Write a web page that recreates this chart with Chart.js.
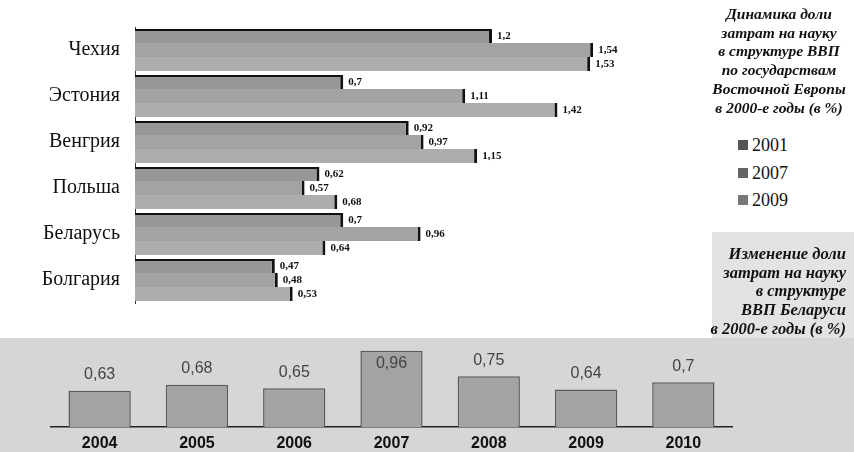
<!DOCTYPE html>
<html>
<head>
<meta charset="utf-8">
<script src="https://cdn.jsdelivr.net/npm/chart.js@4/dist/chart.umd.min.js"></script>
<style>
  html, body { margin:0; padding:0; background:#fff; }
  #wrap { position:relative; width:854px; height:452px; overflow:hidden; background:#fff; }
  #strip { position:absolute; left:0; top:338px; width:854px; height:114px; background:#d6d6d6; }
  #capbox { position:absolute; left:712px; top:232px; width:142px; height:106px; background:#e3e3e3; }
  #topc { position:absolute; left:0; top:0; }
  #botc { position:absolute; left:0; top:338px; }
  .cap { position:absolute; font-family:"Liberation Serif","DejaVu Serif",serif; font-weight:bold; font-style:italic; color:#111; line-height:18.7px; white-space:nowrap; }
  #cap1 { left:699px; top:5px; width:160px; text-align:center; font-size:15.5px; }
  #cap2 { left:680px; top:245px; width:166px; text-align:right; font-size:16.5px; }
  #legend { position:absolute; left:738px; top:133px; font-family:"Liberation Serif","DejaVu Serif",serif; font-size:18px; color:#111; }
  #legend div { height:27.5px; line-height:24px; white-space:nowrap; }
  #legend span.box { display:inline-block; width:10px; height:10px; margin-right:4px; vertical-align:1px; }
</style>
</head>
<body>
<div id="wrap">
  <div id="strip"></div>
  <div id="capbox"></div>
  <canvas id="topc" width="730" height="330"></canvas>
  <canvas id="botc" width="854" height="114"></canvas>
  <div class="cap" id="cap1">Динамика доли<br>затрат на науку<br>в структуре ВВП<br>по государствам<br>Восточной Европы<br>в 2000-е годы (в %)</div>
  <div id="legend"></div>
  <div class="cap" id="cap2">Изменение доли<br>затрат на науку<br>в структуре<br>ВВП Беларуси<br>в 2000-е годы (в %)</div>
</div>
<script>
// ---- Data: top chart (share of R&D spending in GDP, %) ----
const countries = ['Чехия', 'Эстония', 'Венгрия', 'Польша', 'Беларусь', 'Болгария'];
const seriesNames = ['2001', '2007', '2009'];
const v2001 = [1.2, 0.7, 0.92, 0.62, 0.7, 0.47];
const v2007 = [1.54, 1.11, 0.97, 0.57, 0.96, 0.48];
const v2009 = [1.53, 1.42, 1.15, 0.68, 0.64, 0.53];

// ---- Data: bottom chart (Belarus) ----
const years = ['2004', '2005', '2006', '2007', '2008', '2009', '2010'];
const belarus = [0.63, 0.68, 0.65, 0.96, 0.75, 0.64, 0.7];

const fmt = v => String(v).replace('.', ',');

const barFills = ['#979797', '#a3a3a3', '#adadad'];
const legendFills = ['#555555', '#666666', '#777777'];

// legend (HTML)
const lg = document.getElementById('legend');
seriesNames.forEach((n, i) => {
  const d = document.createElement('div');
  d.innerHTML = '<span class="box" style="background:' + legendFills[i] + '"></span>' + n;
  lg.appendChild(d);
});

const topLabels = {
  id: 'topLabels',
  afterDatasetsDraw(chart) {
    const ctx = chart.ctx;
    ctx.save();
    ctx.font = 'bold 11px "Liberation Serif", "DejaVu Serif", serif';
    ctx.fillStyle = '#111';
    ctx.textAlign = 'left';
    ctx.textBaseline = 'middle';
    chart.data.datasets.forEach((ds, di) => {
      const meta = chart.getDatasetMeta(di);
      meta.data.forEach((el, i) => {
        ctx.fillText(fmt(ds.data[i]), el.x + 5, el.y);
      });
    });
    ctx.restore();
  }
};

const series = [v2001, v2007, v2009];
new Chart(document.getElementById('topc'), {
  type: 'bar',
  data: {
    labels: countries,
    datasets: series.map((d, i) => ({
      label: seriesNames[i],
      data: d,
      backgroundColor: barFills[i],
      borderColor: '#111',
      borderWidth: { top: i === 0 ? 2 : 0, right: 3, bottom: 0, left: 0 },
      borderSkipped: 'left',
      barPercentage: 1.0,
      categoryPercentage: 0.91
    }))
  },
  options: {
    indexAxis: 'y',
    responsive: false,
    animation: false,
    layout: { padding: { top: 18, bottom: 20, left: 0, right: 0 } },
    plugins: { legend: { display: false }, tooltip: { enabled: false } },
    scales: {
      x: { display: false, min: 0, max: 2.0 },
      y: {
        afterFit(s) { s.width = 135; },
        grid: { display: false, drawTicks: false },
        border: { display: true, color: '#333', dash: [2, 2], width: 1 },
        ticks: {
          padding: 15,
          color: '#111',
          font: { family: '"Liberation Serif", "DejaVu Serif", serif', size: 20 }
        }
      }
    }
  },
  plugins: [topLabels]
});

const botLabels = {
  id: 'botLabels',
  afterDatasetsDraw(chart) {
    const ctx = chart.ctx;
    const top = chart.chartArea.top;
    ctx.save();
    ctx.font = '16px "Liberation Sans", Arial, sans-serif';
    ctx.fillStyle = '#444';
    ctx.textAlign = 'center';
    ctx.textBaseline = 'middle';
    const ds = chart.data.datasets[0];
    chart.getDatasetMeta(0).data.forEach((el, i) => {
      let y = el.y - 16;
      if (y < top + 6) y = el.y + 13;
      ctx.fillText(fmt(ds.data[i]), el.x, y);
    });
    ctx.restore();
  }
};

new Chart(document.getElementById('botc'), {
  type: 'bar',
  data: {
    labels: years,
    datasets: [{
      label: 'Беларусь',
      data: belarus,
      backgroundColor: '#a3a3a3',
      borderColor: '#5a5a5a',
      borderWidth: 1.5,
      borderSkipped: 'bottom',
      barPercentage: 0.64,
      categoryPercentage: 1.0
    }]
  },
  options: {
    responsive: false,
    animation: false,
    layout: { padding: { top: 8, left: 51, right: 122, bottom: 0 } },
    plugins: { legend: { display: false }, tooltip: { enabled: false } },
    scales: {
      y: { display: false, min: 0.33, max: 1.0 },
      x: {
        afterFit(s) { s.height = 25; },
        grid: { display: false, drawTicks: false },
        border: { display: true, color: '#222', width: 1.5 },
        ticks: {
          padding: 7,
          color: '#111',
          font: { family: '"Liberation Sans", Arial, sans-serif', size: 16, weight: 'bold' }
        }
      }
    }
  },
  plugins: [botLabels]
});
</script>
</body>
</html>
